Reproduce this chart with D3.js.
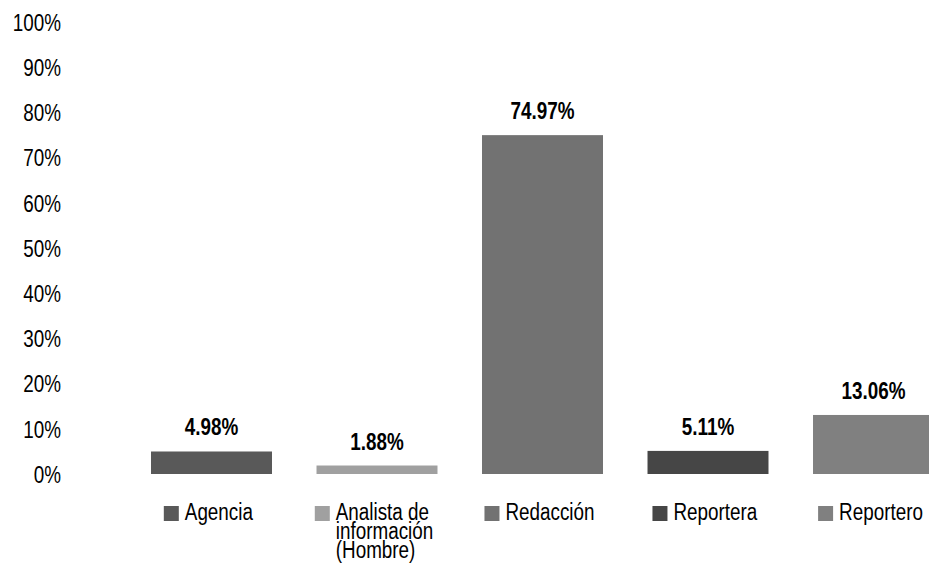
<!DOCTYPE html>
<html>
<head>
<meta charset="utf-8">
<script src="https://cdn.jsdelivr.net/npm/d3@7/dist/d3.min.js"></script>
<style>
  html, body { margin: 0; padding: 0; background: #fff; }
  svg text { font-family: "Liberation Sans Narrow", "Arial Narrow", "Liberation Sans", Arial, sans-serif; fill: #000; }
</style>
</head>
<body>
<svg id="chart" width="929" height="570"></svg>
<script>
// Share of items by author / source
const categories = ["Agencia", "Analista de información (Hombre)", "Redacción", "Reportera", "Reportero"];
const legendLines = [["Agencia"], ["Analista de", "información", "(Hombre)"], ["Redacción"], ["Reportera"], ["Reportero"]];
const values = [4.98, 1.88, 74.97, 5.11, 13.06];
const colors = ["#595959", "#a0a0a0", "#727272", "#464646", "#808080"];
const yTicks = [0, 10, 20, 30, 40, 50, 60, 70, 80, 90, 100];

// condensed look for the sans face
const NARROW = "scale(0.82,1)";

const svg = d3.select("#chart");

const y = d3.scaleLinear().domain([0, 100]).range([474, 22]);
const x = d3.scaleBand()
  .domain(categories)
  .range([128.75, 956.25])
  .paddingInner(0.269)
  .paddingOuter(0.1345);

// Y axis labels only (no axis line, no gridlines)
const yAxis = d3.axisLeft(y).tickValues(yTicks).tickFormat(d => d + "%").tickSize(0).tickPadding(0);
const gy = svg.append("g").attr("transform", "translate(61,0)").call(yAxis);
gy.select(".domain").remove();
gy.selectAll("text")
  .attr("fill", "#000")
  .attr("x", 0)
  .attr("transform", NARROW)
  .style("font-size", "23px")
  .attr("dy", "0.36em");

// Bars
svg.append("g").selectAll("rect")
  .data(values)
  .join("rect")
  .attr("x", (d, i) => x(categories[i]))
  .attr("width", x.bandwidth())
  .attr("y", d => y(d))
  .attr("height", d => y(0) - y(d))
  .attr("fill", (d, i) => colors[i]);

// Value labels
svg.append("g").selectAll("g")
  .data(values)
  .join("g")
  .attr("transform", (d, i) => `translate(${x(categories[i]) + x.bandwidth() / 2},${y(d) - 16})`)
  .append("text")
  .attr("transform", NARROW)
  .attr("text-anchor", "middle")
  .style("font-size", "23px")
  .style("font-weight", "bold")
  .text(d => d.toFixed(2) + "%");

// Legend, one entry roughly centred under each bar
const legend = svg.append("g");
categories.forEach((c, i) => {
  const g = legend.append("g");
  g.append("rect")
    .attr("x", 0).attr("y", 506)
    .attr("width", 15).attr("height", 15)
    .attr("fill", colors[i]);
  const t = g.append("g").attr("transform", "translate(21,0)")
    .append("text").attr("transform", NARROW).style("font-size", "23px");
  legendLines[i].forEach((line, j) => {
    t.append("tspan").attr("x", 0).attr("y", 520 + j * 19).text(line);
  });
  const w = 21 + t.node().getBBox().width * 0.82;
  const left = x(c) + x.bandwidth() / 2 - w / 2 - 3;
  g.attr("transform", `translate(${left},0)`);
});
</script>
</body>
</html>
